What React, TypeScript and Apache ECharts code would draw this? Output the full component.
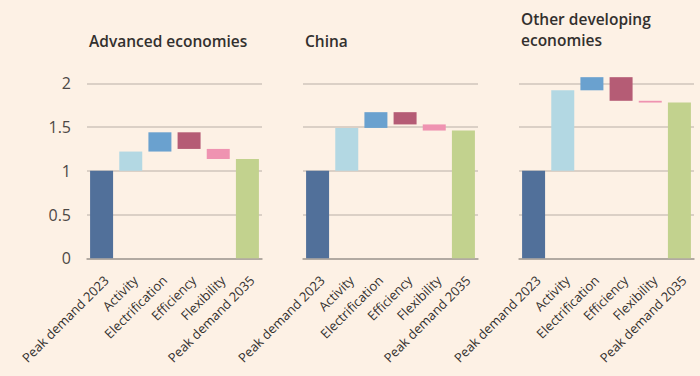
import React, { useEffect, useRef } from "react";
import * as echarts from "echarts";

const categories = ["Peak demand 2023", "Activity", "Electrification", "Efficiency", "Flexibility", "Peak demand 2035"];
const panelTitles = ["Advanced economies", "China", "Other developing\neconomies"];
const advancedSteps = [1, 0.22, 0.22, -0.19, -0.115, 1.135];
const chinaSteps = [1, 0.49, 0.18, -0.14, -0.07, 1.46];
const otherSteps = [1, 0.92, 0.15, -0.27, -0.02, 1.78];
const barColors = ["#51709a", "#b3d8e3", "#6aa1cf", "#b55c75", "#ef93b1", "#c2d28e"];

const panels = [advancedSteps, chinaSteps, otherSteps];
const gridLefts = [87, 303, 519];
const FONT = "'Open Sans', 'Noto Sans', sans-serif";

function waterfall(steps: number[]) {
  const base: number[] = [];
  const height: number[] = [];
  let running = 0;
  steps.forEach((v, i) => {
    if (i === 0 || i === steps.length - 1) {
      base.push(0);
      height.push(v);
      running = v;
    } else {
      if (v >= 0) {
        base.push(running);
        height.push(v);
      } else {
        base.push(running + v);
        height.push(-v);
      }
      running += v;
    }
  });
  return { base, height };
}

export default function App() {
  const ref = useRef<HTMLDivElement>(null);
  useEffect(() => {
    document.body.style.margin = "0";
    if (!ref.current) return;
    const chart = echarts.init(ref.current, undefined, { renderer: "svg" });
    const grids: any[] = [];
    const xAxes: any[] = [];
    const yAxes: any[] = [];
    const series: any[] = [];
    const titles: any[] = [];
    panels.forEach((steps, k) => {
      grids.push({ left: gridLefts[k], top: 83.3, width: 175, height: 175 });
      xAxes.push({
        type: "category",
        gridIndex: k,
        data: categories,
        axisLine: { lineStyle: { color: "#a59d96", width: 1.5 } },
        axisTick: { alignWithLabel: true, length: 8, lineStyle: { color: "#a59d96" } },
        axisLabel: {
          interval: 0,
          rotate: 45,
          fontSize: 13,
          color: "#33302e",
          margin: 15,
          verticalAlign: "top",
          fontFamily: FONT,
        },
      });
      yAxes.push({
        type: "value",
        gridIndex: k,
        min: 0,
        max: 2,
        interval: 0.5,
        axisLine: { show: false },
        axisTick: { show: false },
        splitLine: { lineStyle: { color: "#cfc5bb", width: 1.5 } },
        axisLabel: { show: k === 0, fontSize: 16, color: "#4d4845", margin: 16, fontFamily: FONT },
      });
      const { base, height } = waterfall(steps);
      series.push({
        type: "bar",
        xAxisIndex: k,
        yAxisIndex: k,
        stack: "s" + k,
        data: base,
        barWidth: 23,
        clip: false,
        itemStyle: { color: "transparent" },
        silent: true,
      });
      series.push({
        type: "bar",
        xAxisIndex: k,
        yAxisIndex: k,
        stack: "s" + k,
        barWidth: 23,
        clip: false,
        data: height.map((h, i) => ({ value: h, itemStyle: { color: barColors[i] } })),
      });
      titles.push({
        text: panelTitles[k],
        left: gridLefts[k] - 3,
        top: k === 2 ? 3 : 25,
        textStyle: { fontSize: 15.5, fontWeight: 600, color: "#33302e", fontFamily: FONT, lineHeight: 21 },
      });
    });
    chart.setOption({
      animation: false,
      backgroundColor: "#fdf1e5",
      title: titles,
      grid: grids,
      xAxis: xAxes,
      yAxis: yAxes,
      series,
    });
    return () => chart.dispose();
  }, []);
  return <div ref={ref} style={{ width: 700, height: 376 }} />;
}
